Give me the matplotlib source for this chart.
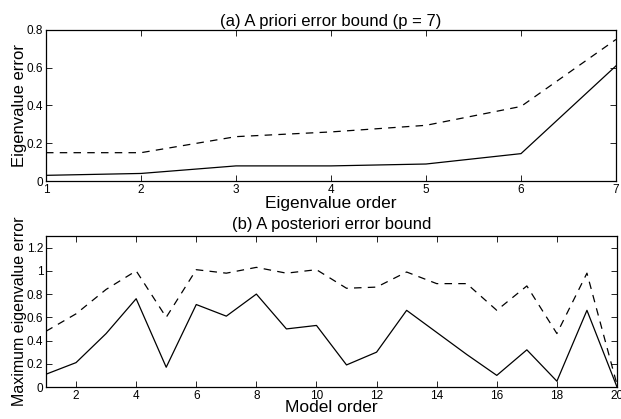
import matplotlib
matplotlib.use("Agg")
import matplotlib.pyplot as plt

plt.rcParams['font.family'] = ['Liberation Sans', 'DejaVu Sans']

# (a) A priori error bound
eig_order = [1, 2, 3, 4, 5, 6, 7]
eig_error = [0.03, 0.04, 0.08, 0.08, 0.09, 0.145, 0.61]
eig_bound = [0.15, 0.15, 0.235, 0.26, 0.295, 0.395, 0.75]

# (b) A posteriori error bound
model_order = list(range(1, 21))
max_error = [0.11, 0.21, 0.46, 0.76, 0.17, 0.71, 0.61, 0.80, 0.50, 0.53,
             0.19, 0.30, 0.66, 0.47, 0.28, 0.10, 0.32, 0.05, 0.66, 0.0]
max_bound = [0.48, 0.63, 0.84, 1.00, 0.60, 1.01, 0.98, 1.03, 0.98, 1.01,
             0.85, 0.86, 0.99, 0.89, 0.89, 0.66, 0.87, 0.46, 0.98, 0.02]

W, H = 621, 419
fig = plt.figure(figsize=(W / 100, H / 100), dpi=100)

def px_axes(x0, y0, x1, y1):
    return fig.add_axes([x0 / W, 1 - y1 / H, (x1 - x0) / W, (y1 - y0) / H])

def style(ax):
    ax.tick_params(direction='in', length=4, width=0.6, labelsize=8.5,
                   top=True, right=True, pad=2)
    for s in ax.spines.values():
        s.set_linewidth(0.9)

ax1 = px_axes(46, 30, 616, 181)
ax1.plot(eig_order, eig_error, color='black', lw=0.9)
ax1.plot(eig_order, eig_bound, color='black', lw=0.9, linestyle=(0, (6, 5)))
ax1.set_xlim(1, 7)
ax1.set_ylim(0, 0.8)
ax1.set_xticks(eig_order)
ax1.set_yticks([0, 0.2, 0.4, 0.6, 0.8])
ax1.set_yticklabels(['0', '0.2', '0.4', '0.6', '0.8'])
style(ax1)
ax1.set_title('(a) A priori error bound (p = 7)', fontsize=12, pad=3)
ax1.set_xlabel('Eigenvalue order', fontsize=12.5, labelpad=0)
ax1.set_ylabel('Eigenvalue error', fontsize=12, labelpad=0)

ax2 = px_axes(46, 236, 617, 387)
ax2.plot(model_order, max_error, color='black', lw=0.9)
ax2.plot(model_order, max_bound, color='black', lw=0.9, linestyle=(0, (6, 5)))
ax2.set_xlim(1, 20)
ax2.set_ylim(0, 1.3)
ax2.set_xticks(list(range(2, 21, 2)))
ax2.set_yticks([0, 0.2, 0.4, 0.6, 0.8, 1.0, 1.2])
ax2.set_yticklabels(['0', '0.2', '0.4', '0.6', '0.8', '1', '1.2'])
style(ax2)
ax2.set_title('(b) A posteriori error bound', fontsize=12, pad=5)
ax2.set_xlabel('Model order', fontsize=12.5, labelpad=-1)
ax2.set_ylabel('Maximum eigenvalue error', fontsize=11.5, labelpad=0)

fig.savefig('out.png', dpi=100)
